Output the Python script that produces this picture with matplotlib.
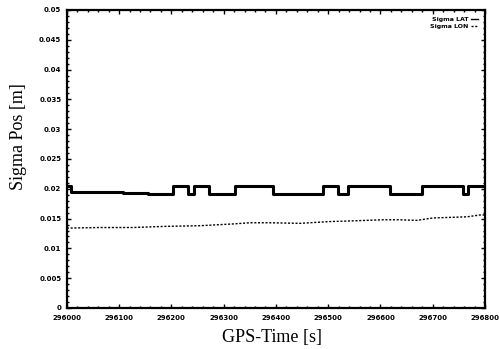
import matplotlib
matplotlib.use("Agg")
import matplotlib.pyplot as plt
from matplotlib.ticker import MultipleLocator, FixedLocator

# LAT step series (change points, seconds) and levels [m]
lat_time = [296000, 296008, 296107, 296155, 296203, 296232, 296243, 296272,
            296322, 296394, 296490, 296519, 296538, 296618, 296679, 296758,
            296767, 296800]
lat_sigma = [0.0204, 0.0194, 0.0193, 0.0191, 0.0204, 0.0191, 0.0204, 0.0191,
             0.0204, 0.0191, 0.0204, 0.0191, 0.0204, 0.0191, 0.0204, 0.0191,
             0.0204, 0.0204]

# LON series
lon_time = [296000, 296063, 296126, 296191, 296254, 296318, 296350, 296388,
            296446, 296503, 296541, 296605, 296637, 296670, 296700, 296733,
            296766, 296790, 296800]
lon_sigma = [0.0134, 0.0135, 0.0135, 0.0137, 0.0138, 0.0141, 0.0143, 0.0143,
             0.0142, 0.0145, 0.0146, 0.0148, 0.0148, 0.0147, 0.0151, 0.0152,
             0.0153, 0.0156, 0.0156]

x_ticks = [296000, 296100, 296200, 296300, 296400, 296500, 296600, 296700, 296800]
x_ticklabels = ["296000", "296100", "296200", "296300", "296400",
                "296500", "296600", "296700", "296800"]
y_ticks = [0, 0.005, 0.01, 0.015, 0.02, 0.025, 0.03, 0.035, 0.04, 0.045, 0.05]
y_ticklabels = ["0", "0.005", "0.01", "0.015", "0.02", "0.025", "0.03",
                "0.035", "0.04", "0.045", "0.05"]

fig = plt.figure(figsize=(4.99, 3.49), dpi=100)
ax = fig.add_axes([0.134, 0.1175, 0.838, 0.854])

ax.step(lat_time, lat_sigma, where="post", color="black", lw=2.2,
        label="Sigma LAT")
ax.plot(lon_time, lon_sigma, color="black", lw=1.0, ls=(0, (1.5, 1.2)),
        label="Sigma LON")

ax.set_xlim(296000, 296800)
ax.set_ylim(0, 0.05)
ax.xaxis.set_major_locator(FixedLocator(x_ticks))
ax.set_xticklabels(x_ticklabels)
ax.yaxis.set_major_locator(FixedLocator(y_ticks))
ax.set_yticklabels(y_ticklabels)
ax.xaxis.set_minor_locator(MultipleLocator(20))
ax.yaxis.set_minor_locator(MultipleLocator(0.001))

ax.tick_params(which="both", direction="in", top=True, right=True,
               width=1.0)
ax.tick_params(axis="x", which="major", labelsize=5.0, pad=5)
ax.tick_params(axis="y", which="major", labelsize=5.0, pad=4)
ax.tick_params(which="major", length=3)
ax.tick_params(which="minor", length=1.2)
for lbl in ax.get_xticklabels() + ax.get_yticklabels():
    lbl.set_fontweight("bold")
for sp in ax.spines.values():
    sp.set_linewidth(1.6)

ax.set_xlabel("GPS-Time [s]", family="Liberation Serif", fontsize=13)
ax.set_ylabel("Sigma Pos [m]", family="Liberation Serif", fontsize=13)
ax.xaxis.set_label_coords(0.49, -0.07)
ax.yaxis.set_label_coords(-0.095, 0.574)

leg = ax.legend(loc="upper right", frameon=False, markerfirst=False,
                prop={"size": 4.5, "weight": "bold"}, handlelength=1.2,
                handletextpad=0.4, labelspacing=0.2, borderaxespad=0.7)
for line in leg.get_lines():
    line.set_linewidth(1.0)

fig.savefig("out.png", dpi=100)
